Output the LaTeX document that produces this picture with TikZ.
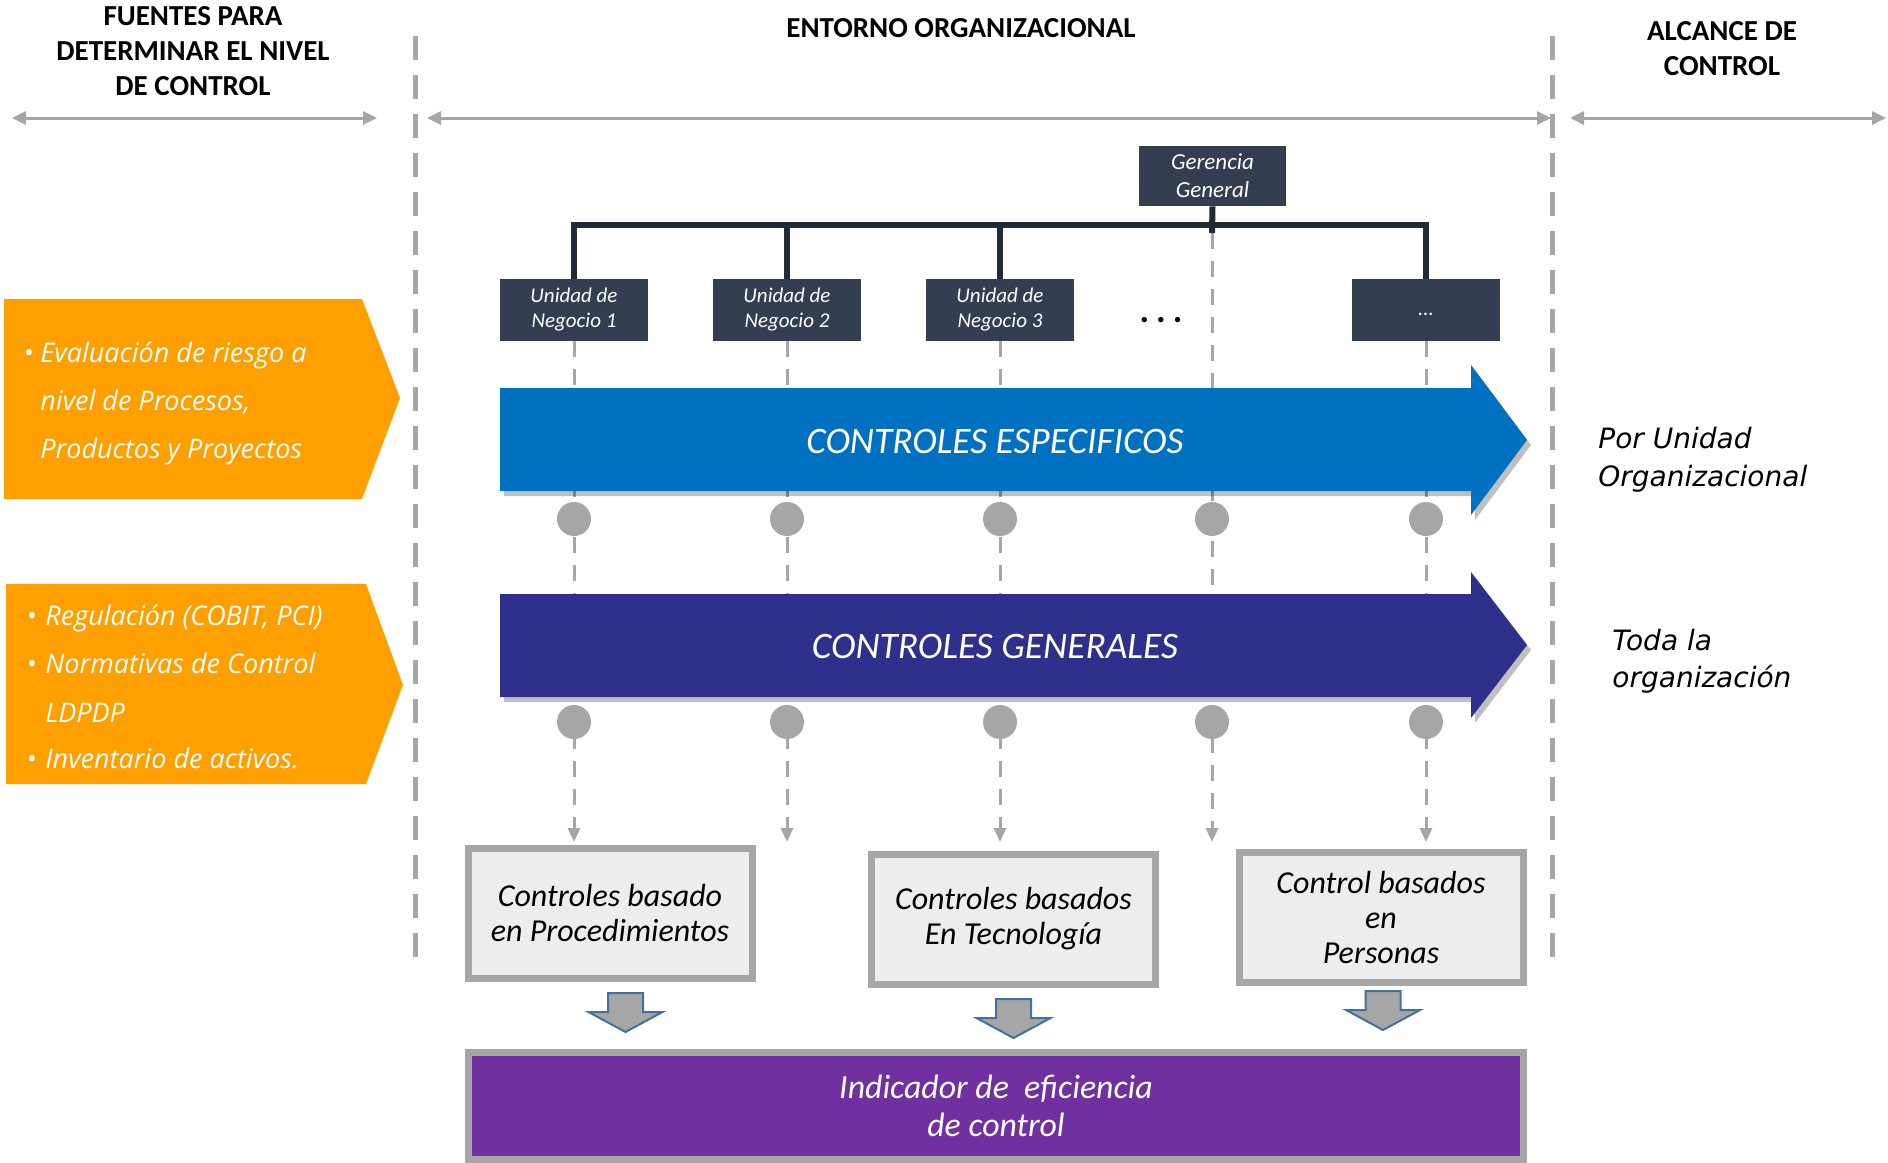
\documentclass[tikz,border=0pt]{standalone}
\usepackage{fontspec}
\setmainfont{Carlito}
\newfontfamily\ofont{Open Sans}
\newfontfamily\vfont{DejaVu Sans}
\usetikzlibrary{arrows.meta}
\definecolor{orangeb}{RGB}{255,159,0}
\definecolor{blueb}{RGB}{0,112,192}
\definecolor{navyb}{RGB}{46,48,140}
\definecolor{purpleb}{RGB}{112,48,160}
\definecolor{darkbox}{RGB}{51,63,80}
\definecolor{busc}{RGB}{33,43,56}
\definecolor{sepgray}{RGB}{166,166,166}
\definecolor{lightf}{RGB}{237,237,237}
\definecolor{arrowline}{RGB}{65,113,156}
\begin{document}
\begin{tikzpicture}[x=0.5pt,y=-0.5pt,
  hdr/.style={font=\bfseries\fontsize{14.5}{17.5}\selectfont, align=center, inner sep=0},
  sepline/.style={draw=sepgray, line width=2.5pt, dash pattern=on 12pt off 7.5pt},
  span/.style={draw=sepgray, line width=1.5pt, {Triangle[length=7pt,width=6.5pt]}-{Triangle[length=7pt,width=6.5pt]}},
  unit/.style={fill=darkbox, text=white, font=\itshape\fontsize{10.5}{12.5}\selectfont, minimum width=74pt, minimum height=31pt, inner sep=0, align=center},
  bus/.style={draw=busc, line width=3pt},
  vdash/.style={draw=sepgray, line width=1.5pt, dash pattern=on 8pt off 6pt, -{Triangle[length=7pt,width=6pt]}},
  gdot/.style={circle, fill=sepgray, minimum size=17pt, inner sep=0},
  cbox/.style={draw=sepgray, line width=3.5pt, fill=lightf, minimum width=142pt, minimum height=65pt, align=center, font=\itshape\fontsize{16}{17.5}\selectfont, inner sep=0},
  otext/.style={font=\ofont\itshape\fontsize{13.5}{24}\selectfont, text=white, anchor=base west, inner sep=0},
  rtext/.style={font=\vfont\itshape\fontsize{14}{19}\selectfont, anchor=base west, inner sep=0},
  arrtext/.style={font=\itshape\fontsize{18.7}{22}\selectfont, text=white, inner sep=0},
  blockarrow/.style={fill=sepgray, draw=arrowline, line width=1pt, line join=miter}
]
\useasboundingbox (0,0) rectangle (1888,1162);

% separators
\draw[sepline] (415,36) -- (415,965);
\draw[sepline] (1552,36) -- (1552,965);

% headers
\node[hdr] (h1) at (193,51) {FUENTES PARA\\DETERMINAR EL NIVEL\\DE CONTROL};
\node[hdr] (h2) at (961,28) {ENTORNO ORGANIZACIONAL};
\node[hdr] (h3) at (1722,49) {ALCANCE DE\\CONTROL};

% span arrows
\coordinate (s1a) at (12,118); \coordinate (s1b) at (377,118);
\coordinate (s2a) at (427,118); \coordinate (s2b) at (1551,118);
\coordinate (s3a) at (1570,118); \coordinate (s3b) at (1886,118);
\draw[span] (s1a) -- (s1b);
\draw[span] (s2a) -- (s2b);
\draw[span] (s3a) -- (s3b);

% orange source boxes
\fill[orangeb] (4,299) -- (362,299) -- (400,398) -- (362,499) -- (4,499) -- cycle;
\fill[orangeb] (6,584) -- (366,584) -- (403,685) -- (366,784) -- (6,784) -- cycle;
\node[otext] (o1) at (23,362) {\makebox[8.5pt][l]{•}Evaluación de riesgo a};
\node[otext] (o2) at (40,410) {nivel de Procesos,};
\node[otext] (o3) at (40,458) {Productos y Proyectos};
\node[otext] (p1) at (26,625) {\makebox[9.5pt][l]{•}Regulación (COBIT, PCI)};
\node[otext] (p2) at (26,673) {\makebox[9.5pt][l]{•}Normativas de Control};
\node[otext] (p3) at (45,722) {LDPDP};
\node[otext] (p4) at (26,768) {\makebox[9.5pt][l]{•}Inventario de activos.};

% org chart
\node[unit, minimum width=73.5pt, minimum height=30pt, font=\itshape\fontsize{11.5}{14}\selectfont] (g) at (1212.5,176) {Gerencia\\General};
\node[unit] (u1) at (574,310) {\raisebox{-3.5pt}{Unidad de}\\\raisebox{-3.5pt}{Negocio 1}};
\node[unit] (u2) at (787,310) {\raisebox{-3.5pt}{Unidad de}\\\raisebox{-3.5pt}{Negocio 2}};
\node[unit] (u3) at (1000,310) {\raisebox{-3.5pt}{Unidad de}\\\raisebox{-3.5pt}{Negocio 3}};
\node[unit] (u5) at (1426,310) {\raisebox{-2.5pt}[0pt][0pt]{...}};
\node[font=\bfseries\fontsize{18}{20}\selectfont, inner sep=0] (dots) at (1161,320) {.\hspace{3.5pt}.\hspace{3.5pt}.};
\coordinate (bus) at (1212,225);
\coordinate (b4) at (1212,233);

% dashed verticals
\coordinate (e1) at (574,842);
\coordinate (e2) at (787,842);
\coordinate (e3) at (1000,842);
\coordinate (e4) at (1212,842);
\coordinate (e5) at (1426,842);
\draw[vdash] (u1.south) -- (e1);
\draw[vdash] (u2.south) -- (e2);
\draw[vdash] (u3.south) -- (e3);
\draw[vdash] (b4) -- (e4);
\draw[vdash] (u5.south) -- (e5);

% bus lines
\draw[bus] (g.south) -- (b4);
\draw[bus] (u1.north) |- (bus);
\draw[bus] (u5.north) |- (bus);
\draw[bus] (u2.north) -- (u2.north |- bus);
\draw[bus] (u3.north) -- (u3.north |- bus);

% big arrows
\fill[black, opacity=.25] ([shift={(4,5)}]500,388) -- ++(971,0) -- ++(0,-23) -- ++(56,75) -- ++(-56,75) -- ++(0,-24) -- ++(-971,0) -- cycle;
\fill[blueb] (500,388) -- (1471,388) -- (1471,365) -- (1527,440) -- (1471,515) -- (1471,491) -- (500,491) -- cycle;
\node[arrtext] (ce) at (995,441) {CONTROLES ESPECIFICOS};
\fill[black, opacity=.25] ([shift={(4,5)}]500,594) -- ++(971,0) -- ++(0,-22) -- ++(56,73) -- ++(-56,73) -- ++(0,-21) -- ++(-971,0) -- cycle;
\fill[navyb] (500,594) -- (1471,594) -- (1471,572) -- (1527,645) -- (1471,718) -- (1471,697) -- (500,697) -- cycle;
\node[arrtext] (cg) at (995,646) {CONTROLES GENERALES};

% dots
\foreach \x/\n in {574/1,787/2,1000/3,1212/4,1426/5}{
  \node[gdot] (ca\n) at (\x,519) {};
  \node[gdot] (cb\n) at (\x,722) {};
}

% right labels
\node[rtext] (r1) at (1598,448) {Por Unidad};
\node[rtext] (r2) at (1598,486) {Organizacional};
\node[rtext] (r3) at (1612,650) {Toda la};
\node[rtext] (r4) at (1612,687) {organización};

% control boxes
\node[cbox] (ka) at (610,913) {Controles basado\\en Procedimientos};
\node[cbox] (kb) at (1013.5,919) {Controles basados\\En Tecnología};
\node[cbox] (kc) at (1381,917) {Control basados\\en\\Personas};

% block arrows
\foreach \cx/\ty in {625.5/993, 1013.5/999, 1383/991}{
  \draw[blockarrow] (\cx-17.5,\ty) -- (\cx+17.5,\ty) -- (\cx+17.5,\ty+19) -- (\cx+37,\ty+19) -- (\cx,\ty+39) -- (\cx-37,\ty+19) -- (\cx-17.5,\ty+19) -- cycle;
}

% indicator
\node[draw=sepgray, line width=3.5pt, fill=purpleb, text=white, minimum width=527.5pt, minimum height=53.75pt, inner sep=0, align=center, font=\itshape\fontsize{16.9}{19}\selectfont] (ind) at (996,1106) {Indicador de\ \ eficiencia\\de control};
\end{tikzpicture}
\end{document}
